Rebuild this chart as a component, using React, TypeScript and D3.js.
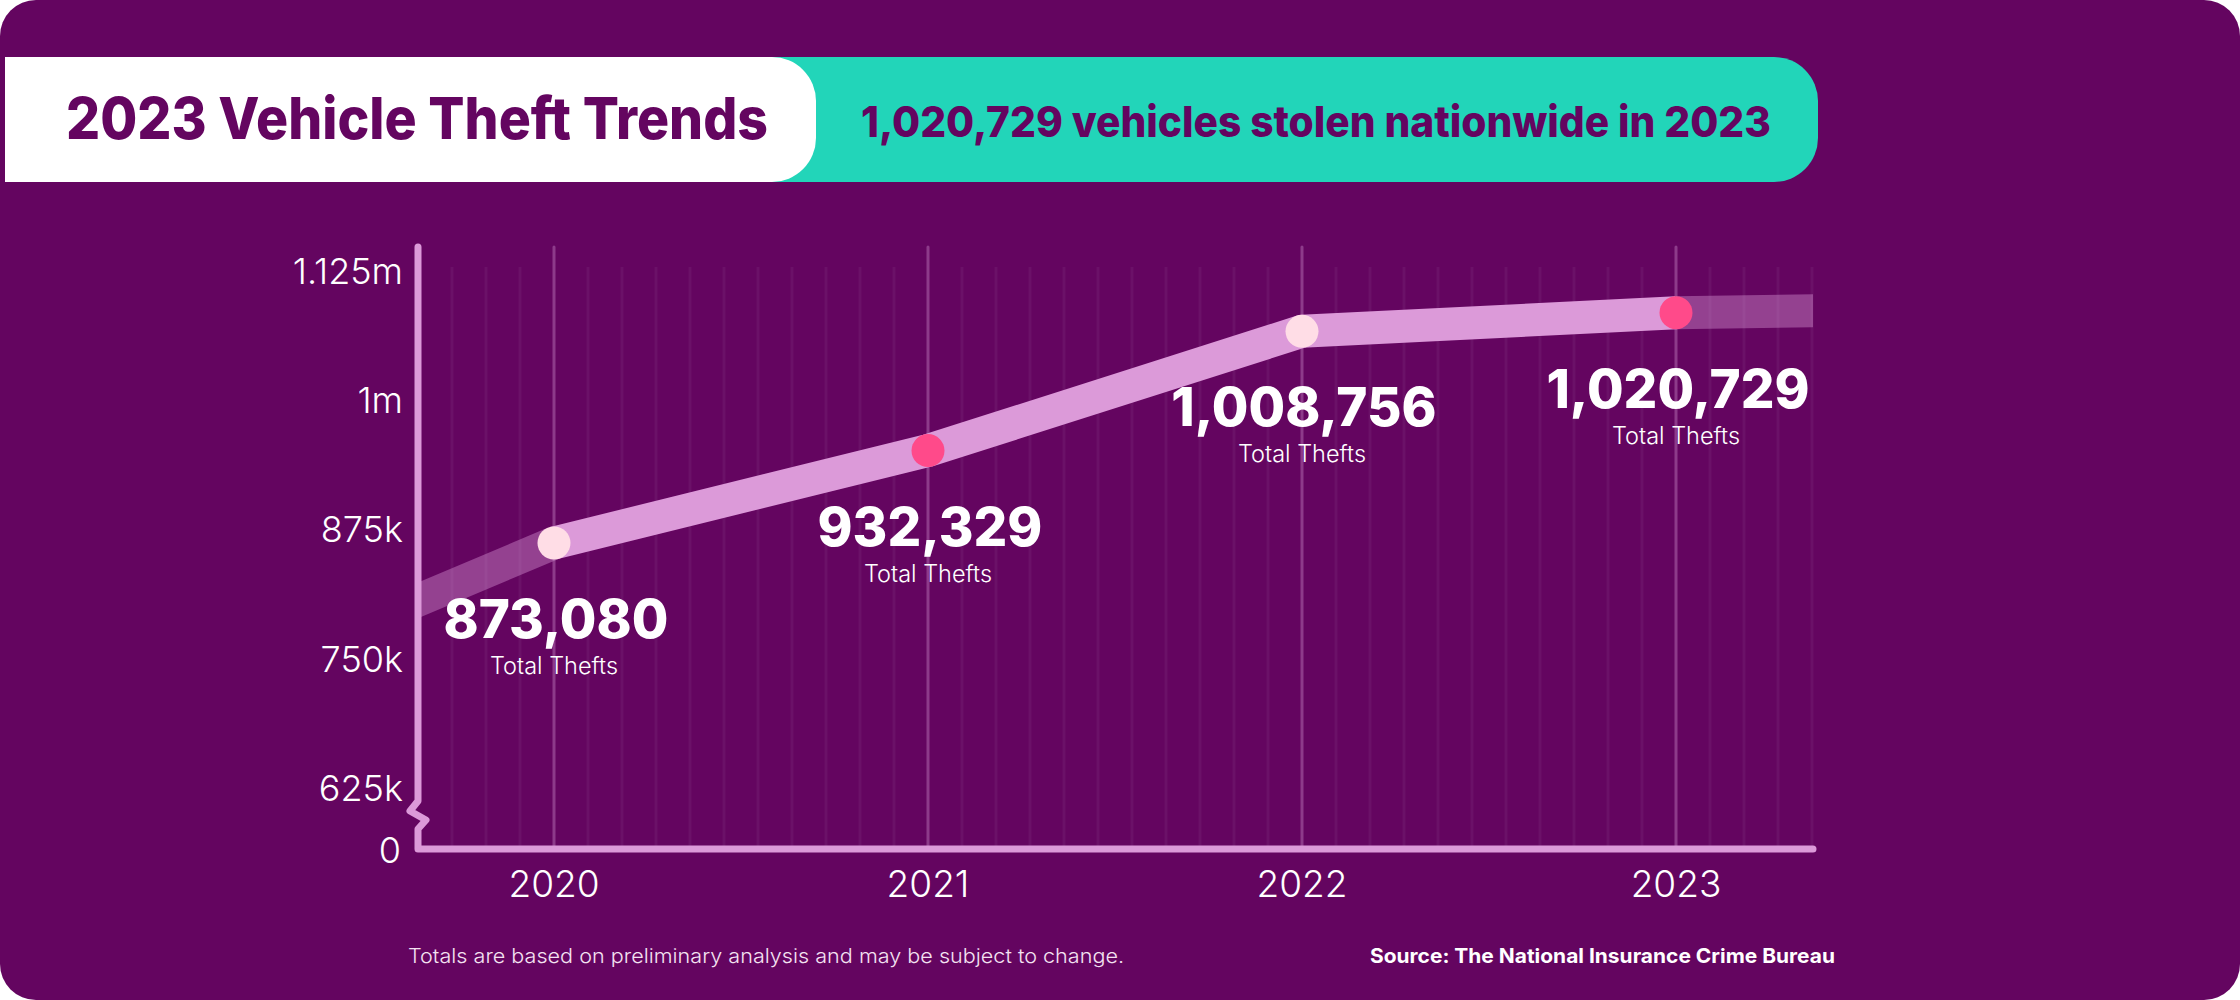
import React, { useEffect } from "react";
import * as d3 from "d3";

// ---------- data ----------
const years = [2020, 2021, 2022, 2023];
const thefts = [873080, 932329, 1008756, 1020729];
// estimated context values that the faded line ends run toward (clipped by the plot)
const contextYears = [2019, 2024];
const contextValues = [772000, 1024000];
const yTickValues = [625000, 750000, 875000, 1000000, 1125000];
const yTickLabels = ["625k", "750k", "875k", "1m", "1.125m"];
const zeroLabel = "0";
const valueLabels = ["873,080", "932,329", "1,008,756", "1,020,729"];
const subLabel = "Total Thefts";
const title = "2023 Vehicle Theft Trends";
const subtitle = "1,020,729 vehicles stolen nationwide in 2023";
const footnote = "Totals are based on preliminary analysis and may be subject to change.";
const source = "Source: The National Insurance Crime Bureau";

// ---------- style ----------
const W = 2240;
const H = 1000;
const BG = "#640560";
const TEAL = "#22d5b9";
const LINE = "#dc9ad9";
const LIGHT_DOT = "#ffdde6";
const HOT_DOT = "#ff4a8a";
const FONT = "Inter, 'Open Sans', sans-serif";

export default function App() {
  useEffect(() => {
    document.body.style.margin = "0";
  }, []);

  const plotLeft = 418;
  const plotRight = 1813;
  const axisBottom = 849;
  const majorTop = 247;
  const minorTop = 267;

  const x = d3.scaleLinear().domain([2020, 2023]).range([554, 1676]);
  const yAxis = d3.scaleLinear().domain([625000, 1125000]).range([788, 271]);
  const yLine = d3.scaleLinear().domain([625000, 1125000]).range([930, 150]);

  const pts = years.map((yr, i) => [yr, thefts[i]] as [number, number]);
  const line = d3
    .line<[number, number]>()
    .x((d) => x(d[0]))
    .y((d) => yLine(d[1]));

  const leadSeg: [number, number][] = [[contextYears[0], contextValues[0]], pts[0]];
  const trailSeg: [number, number][] = [pts[pts.length - 1], [contextYears[1], contextValues[1]]];

  // minor gridlines: 11 divisions per year
  const minor: number[] = [];
  for (let yr = 2019; yr <= 2023; yr++) {
    for (let k = 1; k < 11; k++) {
      const v = yr + k / 11;
      const px = x(v);
      if (px > plotLeft + 10 && px <= plotRight + 0.5) minor.push(v);
    }
  }

  const axisPath = `M${plotLeft},${majorTop} V801 L410,811 L426,820 L${plotLeft},829 V${axisBottom} H${plotRight}`;

  return (
    <svg
      width={W}
      height={H}
      viewBox={`0 0 ${W} ${H}`}
      style={{ position: "absolute", left: 0, top: 0, display: "block" }}
      fontFamily={FONT}
    >
      <rect x={0} y={0} width={W} height={H} fill="#ffffff" />
      <rect x={0} y={0} width={W} height={H} rx={36} ry={36} fill={BG} />

      {/* header banners */}
      <rect x={700} y={57} width={1818 - 700} height={125} rx={44} ry={44} fill={TEAL} />
      <path d="M5,57 H772 A44,44 0 0 1 816,101 V138 A44,44 0 0 1 772,182 H5 Z" fill="#ffffff" />
      <text
        x={417}
        y={139}
        textAnchor="middle"
        fontSize={58}
        fontWeight={800}
        fill={BG}
        textLength={702}
        lengthAdjust="spacingAndGlyphs"
      >
        {title}
      </text>
      <text
        x={1316}
        y={137}
        textAnchor="middle"
        fontSize={43}
        fontWeight={800}
        fill={BG}
        textLength={910}
        lengthAdjust="spacingAndGlyphs"
      >
        {subtitle}
      </text>

      <defs>
        <clipPath id="plotClip">
          <rect x={plotLeft} y={150} width={plotRight - plotLeft} height={axisBottom - 150} />
        </clipPath>
      </defs>

      {/* gridlines */}
      {minor.map((v, i) => (
        <line
          key={"m" + i}
          x1={x(v)}
          x2={x(v)}
          y1={minorTop}
          y2={axisBottom}
          stroke="#ffffff"
          strokeOpacity={0.05}
          strokeWidth={3}
        />
      ))}
      {years.map((yr) => (
        <line
          key={"g" + yr}
          x1={x(yr)}
          x2={x(yr)}
          y1={majorTop}
          y2={axisBottom}
          stroke="#8d3b8a"
          strokeWidth={3}
          strokeLinecap="round"
        />
      ))}

      {/* faded line ends */}
      <g clipPath="url(#plotClip)">
        <path d={line(leadSeg) || ""} fill="none" stroke={LINE} strokeOpacity={0.4} strokeWidth={33} />
        <path d={line(trailSeg) || ""} fill="none" stroke={LINE} strokeOpacity={0.4} strokeWidth={33} />
      </g>

      {/* axes */}
      <path
        d={axisPath}
        fill="none"
        stroke={LINE}
        strokeWidth={7}
        strokeLinecap="round"
        strokeLinejoin="round"
      />

      {/* main line */}
      <path d={line(pts) || ""} fill="none" stroke={LINE} strokeWidth={33} strokeLinejoin="round" />

      {pts.map((d, i) => (
        <circle
          key={"c" + i}
          cx={x(d[0])}
          cy={yLine(d[1])}
          r={16.5}
          fill={i % 2 === 0 ? LIGHT_DOT : HOT_DOT}
        />
      ))}

      {/* value labels */}
      {pts.map((d, i) => (
        <g key={"l" + i}>
          <text
            x={x(d[0]) + 2}
            y={yLine(d[1]) + 95}
            textAnchor="middle"
            fontSize={53}
            fontWeight={800}
            fill="#ffffff"
          >
            {valueLabels[i]}
          </text>
          <text
            x={x(d[0])}
            y={yLine(d[1]) + 131}
            textAnchor="middle"
            fontSize={23.5}
            fontWeight={300}
            fill="#ffffff"
          >
            {subLabel}
          </text>
        </g>
      ))}

      {/* y tick labels */}
      {yTickValues.map((v, i) => (
        <text
          key={"yt" + i}
          x={403}
          y={yAxis(v)}
          dy="0.36em"
          textAnchor="end"
          fontSize={36}
          fontWeight={300}
          fill="#ffffff"
        >
          {yTickLabels[i]}
        </text>
      ))}
      <text x={401} y={axisBottom + 1} dy="0.36em" textAnchor="end" fontSize={36} fontWeight={300} fill="#ffffff">
        {zeroLabel}
      </text>

      {/* x tick labels */}
      {years.map((yr) => (
        <text
          key={"xt" + yr}
          x={x(yr)}
          y={897}
          textAnchor="middle"
          fontSize={37}
          fontWeight={300}
          fill="#ffffff"
        >
          {yr}
        </text>
      ))}

      {/* footer */}
      <text
        x={408}
        y={963}
        fontSize={20}
        fontWeight={300}
        fill="#f4e2f2"
        textLength={716}
        lengthAdjust="spacingAndGlyphs"
      >
        {footnote}
      </text>
      <text
        x={1370}
        y={963}
        fontSize={20}
        fontWeight={700}
        fill="#ffffff"
        textLength={465}
        lengthAdjust="spacingAndGlyphs"
      >
        {source}
      </text>
    </svg>
  );
}
